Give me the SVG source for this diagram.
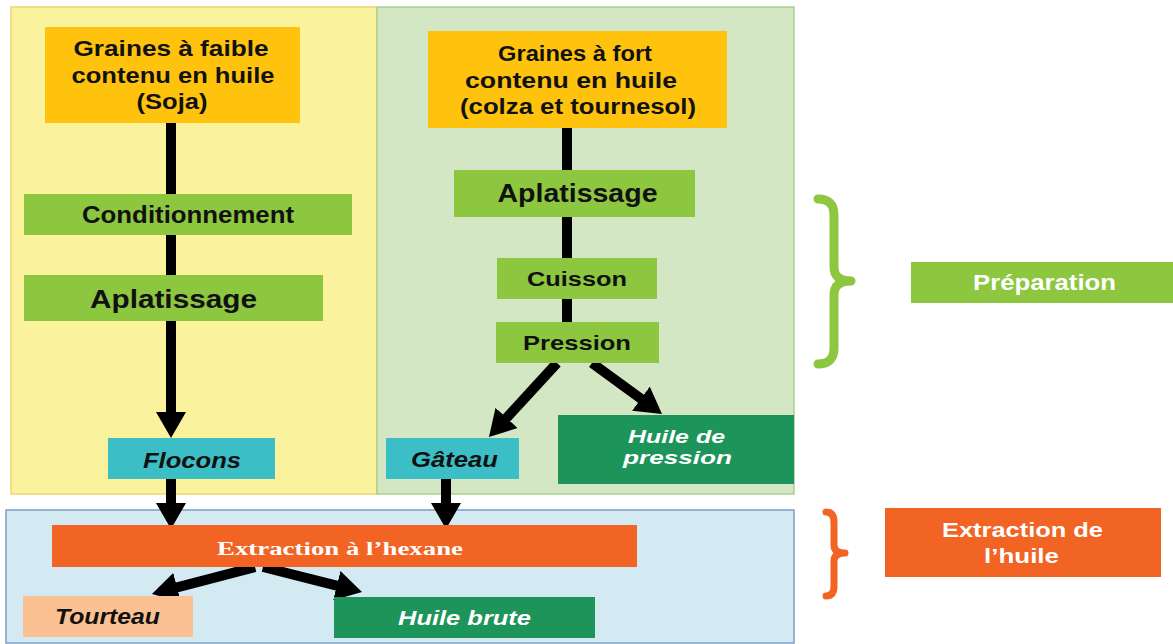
<svg xmlns="http://www.w3.org/2000/svg" width="1173" height="644" viewBox="0 0 1173 644">
<defs>
<marker id="ah" viewBox="0 0 26 30" markerWidth="26" markerHeight="30" markerUnits="userSpaceOnUse" refX="6" refY="15" orient="auto">
<path d="M0,0 L26,15 L0,30 Z" fill="#000"/>
</marker>
<style>
.t{font-family:"Liberation Sans",Arial,sans-serif;font-weight:bold;font-size:21px;text-anchor:middle;fill:#111}
.i{font-style:italic}
.w{fill:#fff}
.seed{fill:#FFC30D}
.step{fill:#8DC63F}
.teal{fill:#3CBEC7}
.dg{fill:#1D9459}
.c{stroke:#000;stroke-width:10;fill:none}
.ca{stroke:#000;stroke-width:10;fill:none;marker-end:url(#ah)}
</style>
</defs>
<rect width="1173" height="644" fill="#fff"/>
<g id="panels">
<rect x="11" y="7" width="366" height="487" fill="#FAF29C" stroke="#EBD86E" stroke-width="1.5"/>
<rect x="377" y="7" width="417" height="487" fill="#D3E7C4" stroke="#A9D08C" stroke-width="1.5"/>
<rect x="6" y="510" width="788" height="133" fill="#D3EAF2" stroke="#7F9CC8" stroke-width="1.5"/>
</g>
<g id="connectors">
<line class="c" x1="171" y1="123" x2="171" y2="194"/>
<line class="c" x1="171" y1="235" x2="171" y2="275"/>
<line class="ca" x1="171" y1="321" x2="171" y2="418"/>
<line class="ca" x1="171" y1="479" x2="171" y2="509"/>
<line class="c" x1="567" y1="128" x2="567" y2="170"/>
<line class="c" x1="567" y1="217" x2="567" y2="258"/>
<line class="c" x1="567" y1="299" x2="567" y2="322"/>
<line class="ca" x1="557" y1="363" x2="502.5" y2="422.3"/>
<line class="ca" x1="592" y1="363" x2="645.8" y2="402.2"/>
<line class="ca" x1="446" y1="479" x2="446" y2="509"/>
<line class="ca" x1="255" y1="567" x2="171.3" y2="588.9"/>
<line class="ca" x1="263" y1="567" x2="342.6" y2="587.1"/>
</g>
<g id="seeds-low">
<rect class="seed" x="45" y="27" width="255" height="96"/>
<text class="t" x="171" y="56" style="font-size:22px" textLength="195" lengthAdjust="spacingAndGlyphs">Graines à faible</text>
<text class="t" x="173" y="83" style="font-size:22px" textLength="203" lengthAdjust="spacingAndGlyphs">contenu en huile</text>
<text class="t" x="172" y="109" style="font-size:22px" textLength="71" lengthAdjust="spacingAndGlyphs">(Soja)</text>
</g>
<g id="conditionnement">
<rect class="step" x="24" y="194" width="328" height="41"/>
<text class="t" x="188" y="223" style="font-size:23px" textLength="212" lengthAdjust="spacingAndGlyphs">Conditionnement</text>
</g>
<g id="aplatissage-left">
<rect class="step" x="24" y="275" width="299" height="46"/>
<text class="t" x="173.5" y="308" style="font-size:25px" textLength="167" lengthAdjust="spacingAndGlyphs">Aplatissage</text>
</g>
<g id="flocons">
<rect class="teal" x="108" y="438" width="167" height="41"/>
<text class="t i" x="192" y="468" style="font-size:22px" textLength="98" lengthAdjust="spacingAndGlyphs">Flocons</text>
</g>
<g id="seeds-high">
<rect class="seed" x="428" y="31" width="299" height="97"/>
<text class="t" x="575" y="61" style="font-size:22px" textLength="154" lengthAdjust="spacingAndGlyphs">Graines à fort</text>
<text class="t" x="571" y="88" style="font-size:22px" textLength="212" lengthAdjust="spacingAndGlyphs">contenu en huile</text>
<text class="t" x="578" y="114" style="font-size:22px" textLength="236" lengthAdjust="spacingAndGlyphs">(colza et tournesol)</text>
</g>
<g id="aplatissage-right">
<rect class="step" x="454" y="170" width="241" height="47"/>
<text class="t" x="577.5" y="202" style="font-size:25px" textLength="160" lengthAdjust="spacingAndGlyphs">Aplatissage</text>
</g>
<g id="cuisson">
<rect class="step" x="497" y="258" width="160" height="41"/>
<text class="t" x="577" y="286" style="font-size:20px" textLength="100" lengthAdjust="spacingAndGlyphs">Cuisson</text>
</g>
<g id="pression">
<rect class="step" x="496" y="322" width="163" height="41"/>
<text class="t" x="577" y="350" style="font-size:21px" textLength="108" lengthAdjust="spacingAndGlyphs">Pression</text>
</g>
<g id="gateau">
<rect class="teal" x="386" y="438" width="133" height="41"/>
<text class="t i" x="454.5" y="467" style="font-size:22px" textLength="87" lengthAdjust="spacingAndGlyphs">Gâteau</text>
</g>
<g id="huile-pression">
<rect class="dg" x="558" y="415" width="236" height="69"/>
<text class="t i w" x="676.5" y="443" style="font-size:19px" textLength="97" lengthAdjust="spacingAndGlyphs">Huile de</text>
<text class="t i w" x="677.5" y="464" style="font-size:19px" textLength="109" lengthAdjust="spacingAndGlyphs">pression</text>
</g>
<g id="extraction-hexane">
<rect x="52" y="525" width="585" height="42" fill="#F26424"/>
<text x="340" y="555" font-family="Liberation Serif, Times New Roman, serif" font-weight="bold" font-size="18" text-anchor="middle" fill="#fff" textLength="246" lengthAdjust="spacingAndGlyphs">Extraction à l’hexane</text>
</g>
<g id="tourteau">
<rect x="23" y="596" width="170" height="41" fill="#FBC193"/>
<text class="t i" x="107.5" y="624" style="font-size:22px" textLength="105" lengthAdjust="spacingAndGlyphs">Tourteau</text>
</g>
<g id="huile-brute">
<rect class="dg" x="334" y="597" width="261" height="41"/>
<text class="t i w" x="464.5" y="625" style="font-size:20px" textLength="133" lengthAdjust="spacingAndGlyphs">Huile brute</text>
</g>
<g id="brace-preparation">
<path d="M818,199 Q834,199 834,215 L834,267 Q834,281 851,281 Q834,281 834,295 L834,348 Q834,364 818,364" fill="none" stroke="#8DC63F" stroke-width="9" stroke-linecap="round" stroke-linejoin="round"/>
</g>
<g id="preparation">
<rect class="step" x="911" y="262" width="262" height="41"/>
<text class="t w" x="1044.5" y="290" style="font-size:22px" textLength="143" lengthAdjust="spacingAndGlyphs">Préparation</text>
</g>
<g id="brace-extraction">
<path d="M826,512 Q834,512 834,522 L834,545 Q834,553 845,553 Q834,553 834,561 L834,586 Q834,596 826,596" fill="none" stroke="#F26424" stroke-width="7" stroke-linecap="round" stroke-linejoin="round"/>
</g>
<g id="extraction-huile">
<rect x="885" y="508" width="276" height="69" fill="#F26424"/>
<text class="t w" x="1022.5" y="537" textLength="161" lengthAdjust="spacingAndGlyphs">Extraction de</text>
<text class="t w" x="1021.5" y="563" textLength="75" lengthAdjust="spacingAndGlyphs">l’huile</text>
</g>
</svg>
